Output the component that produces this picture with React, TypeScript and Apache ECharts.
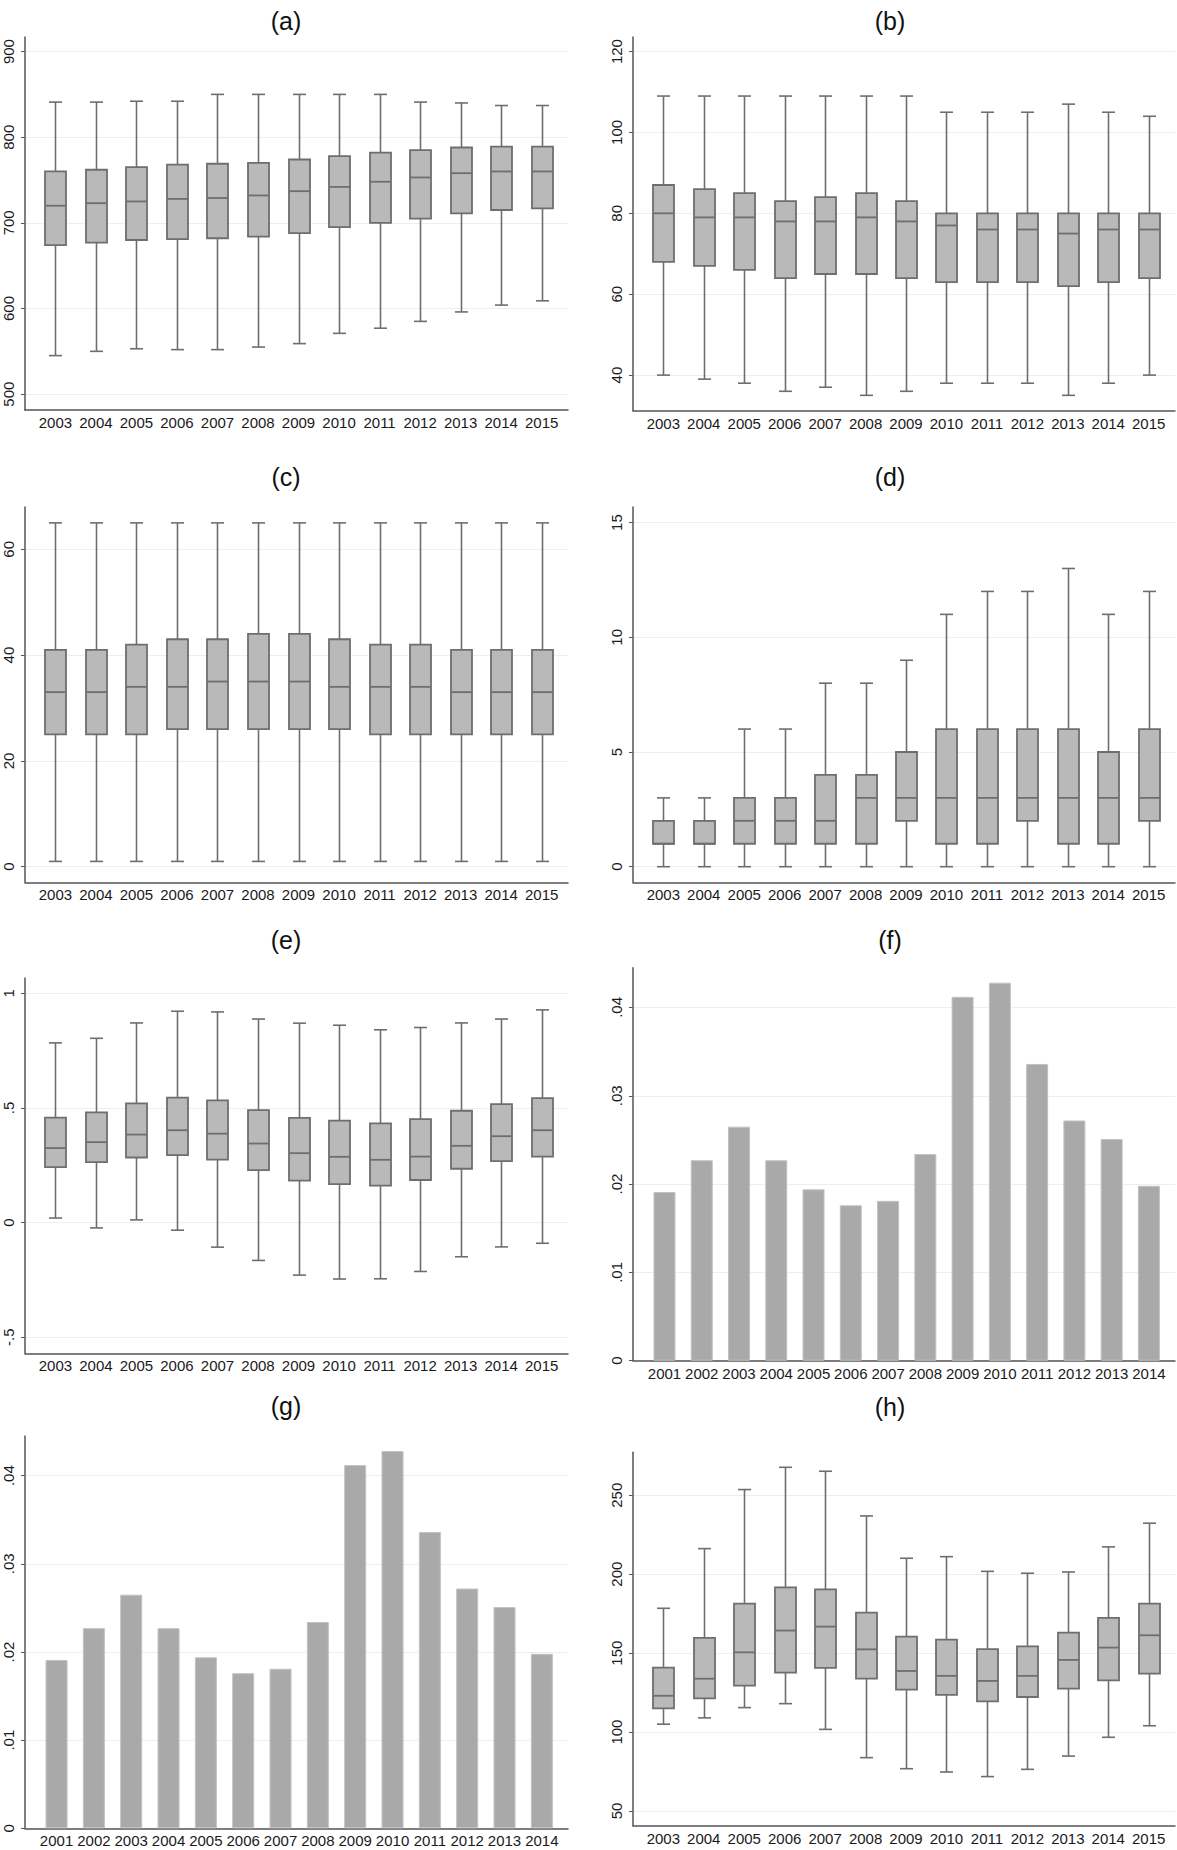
import React, { useEffect, useRef } from "react";
import * as echarts from "echarts";

// ---------- data ----------
const boxYears = ["2003", "2004", "2005", "2006", "2007", "2008", "2009", "2010", "2011", "2012", "2013", "2014", "2015"];
const barYears = ["2001", "2002", "2003", "2004", "2005", "2006", "2007", "2008", "2009", "2010", "2011", "2012", "2013", "2014"];

// (a)
const aMin = [545, 550, 553, 552, 552, 555, 559, 571, 577, 585, 596, 604, 609];
const aQ1 = [674, 677, 680, 681, 682, 684, 688, 695, 700, 705, 711, 715, 717];
const aMed = [720, 723, 725, 728, 729, 732, 737, 742, 748, 753, 758, 760, 760];
const aQ3 = [760, 762, 765, 768, 769, 770, 774, 778, 782, 785, 788, 789, 789];
const aMax = [841, 841, 842, 842, 850, 850, 850, 850, 850, 841, 840, 837, 837];
// (b)
const bMin = [40, 39, 38, 36, 37, 35, 36, 38, 38, 38, 35, 38, 40];
const bQ1 = [68, 67, 66, 64, 65, 65, 64, 63, 63, 63, 62, 63, 64];
const bMed = [80, 79, 79, 78, 78, 79, 78, 77, 76, 76, 75, 76, 76];
const bQ3 = [87, 86, 85, 83, 84, 85, 83, 80, 80, 80, 80, 80, 80];
const bMax = [109, 109, 109, 109, 109, 109, 109, 105, 105, 105, 107, 105, 104];
// (c)
const cMin = [1, 1, 1, 1, 1, 1, 1, 1, 1, 1, 1, 1, 1];
const cQ1 = [25, 25, 25, 26, 26, 26, 26, 26, 25, 25, 25, 25, 25];
const cMed = [33, 33, 34, 34, 35, 35, 35, 34, 34, 34, 33, 33, 33];
const cQ3 = [41, 41, 42, 43, 43, 44, 44, 43, 42, 42, 41, 41, 41];
const cMax = [65, 65, 65, 65, 65, 65, 65, 65, 65, 65, 65, 65, 65];
// (d)
const dMin = [0, 0, 0, 0, 0, 0, 0, 0, 0, 0, 0, 0, 0];
const dQ1 = [1, 1, 1, 1, 1, 1, 2, 1, 1, 2, 1, 1, 2];
const dMed = [1, 1, 2, 2, 2, 3, 3, 3, 3, 3, 3, 3, 3];
const dQ3 = [2, 2, 3, 3, 4, 4, 5, 6, 6, 6, 6, 5, 6];
const dMax = [3, 3, 6, 6, 8, 8, 9, 11, 12, 12, 13, 11, 12];
// (e)
const eMin = [0.02, -0.023, 0.012, -0.033, -0.107, -0.165, -0.229, -0.246, -0.245, -0.213, -0.149, -0.106, -0.09];
const eQ1 = [0.242, 0.264, 0.284, 0.294, 0.275, 0.229, 0.183, 0.168, 0.161, 0.186, 0.235, 0.268, 0.288];
const eMed = [0.325, 0.351, 0.384, 0.403, 0.388, 0.345, 0.303, 0.287, 0.274, 0.288, 0.335, 0.377, 0.403];
const eQ3 = [0.458, 0.481, 0.52, 0.545, 0.533, 0.491, 0.457, 0.445, 0.433, 0.451, 0.488, 0.517, 0.543];
const eMax = [0.784, 0.804, 0.871, 0.922, 0.919, 0.888, 0.87, 0.861, 0.841, 0.851, 0.871, 0.888, 0.928];
// (f) and (g)
const barShare = [0.0191, 0.0227, 0.0265, 0.0227, 0.0194, 0.0176, 0.0181, 0.0234, 0.0412, 0.0428, 0.0336, 0.0272, 0.0251, 0.0198];
// (h)
const hMin = [105, 109, 115.5, 118, 101.7, 83.8, 76.8, 74.7, 71.8, 76.4, 84.8, 96.7, 104];
const hQ1 = [115, 121.4, 129.4, 137.6, 140.6, 133.8, 126.9, 123.5, 119.5, 122.2, 127.5, 132.8, 137];
const hMed = [123, 133.8, 150.5, 164.3, 166.8, 152.4, 138.7, 135.6, 132.4, 135.6, 145.7, 153.5, 161.3];
const hQ3 = [140.8, 159.6, 181.4, 191.7, 190.4, 175.7, 160.5, 158.6, 152.6, 154.3, 163, 172.3, 181.4];
const hMax = [178.4, 216.2, 253.6, 267.7, 265.2, 236.9, 210.1, 211.1, 201.8, 200.6, 201.4, 217.3, 232.3];

// tick labels
const aTicks = [500, 600, 700, 800, 900];
const bTicks = [40, 60, 80, 100, 120];
const cTicks = [0, 20, 40, 60];
const dTicks = [0, 5, 10, 15];
const eTicks = [-0.5, 0, 0.5, 1];
const fTicks = [0, 0.01, 0.02, 0.03, 0.04];
const hTicks = [50, 100, 150, 200, 250];

// ---------- style ----------
const FONT = "'Liberation Sans', Arial, Helvetica, sans-serif";
const AXIS = "#555555";
const EDGE = "#6e6e6e";
const BOXFILL = "#b9b9b9";
const BARFILL = "#a9a9a9";
const GRIDC = "#eeeeee";
const TEXTC = "#1a1a1a";
const LABEL_SIZE = 15;

const stataFmt = (v: number) => {
  const s = String(Math.round(v * 10000) / 10000);
  return s.replace(/^0\./, ".").replace(/^-0\./, "-.");
};

type Panel = {
  title: string;
  kind: "box" | "bar";
  left: number;
  top: number;
  bottom: number;
  width: number;
  yMin: number;
  yMax: number;
  ticks: number[];
  titleX: number;
  titleY: number;
  box?: number[][];
  bars?: number[];
};

const zipBox = (mn: number[], q1: number[], md: number[], q3: number[], mx: number[]) =>
  mn.map((_, i) => [i, mn[i], q1[i], md[i], q3[i], mx[i]]);

const LX = 25;
const RX = 633;
const LT = 286;
const RT = 890;

const panels: Panel[] = [
  { title: "(a)", kind: "box", left: LX, top: 37, bottom: 410, width: 543, yMin: 481.5, yMax: 917, ticks: aTicks, titleX: LT, titleY: 21, box: zipBox(aMin, aQ1, aMed, aQ3, aMax) },
  { title: "(b)", kind: "box", left: RX, top: 37, bottom: 410.7, width: 542, yMin: 31.2, yMax: 123.6, ticks: bTicks, titleX: RT, titleY: 21, box: zipBox(bMin, bQ1, bMed, bQ3, bMax) },
  { title: "(c)", kind: "box", left: LX, top: 507, bottom: 882.3, width: 543, yMin: -2.95, yMax: 68, ticks: cTicks, titleX: LT, titleY: 477, box: zipBox(cMin, cQ1, cMed, cQ3, cMax) },
  { title: "(d)", kind: "box", left: RX, top: 507, bottom: 882.3, width: 542, yMin: -0.68, yMax: 15.68, ticks: dTicks, titleX: RT, titleY: 477, box: zipBox(dMin, dQ1, dMed, dQ3, dMax) },
  { title: "(e)", kind: "box", left: LX, top: 978, bottom: 1353.3, width: 543, yMin: -0.57, yMax: 1.067, ticks: eTicks, titleX: LT, titleY: 940, box: zipBox(eMin, eQ1, eMed, eQ3, eMax) },
  { title: "(f)", kind: "bar", left: RX, top: 967.7, bottom: 1360.7, width: 542, yMin: 0, yMax: 0.0445, ticks: fTicks, titleX: RT, titleY: 940, bars: barShare },
  { title: "(g)", kind: "bar", left: LX, top: 1436, bottom: 1828.3, width: 543, yMin: 0, yMax: 0.0445, ticks: fTicks, titleX: LT, titleY: 1406, bars: barShare },
  { title: "(h)", kind: "box", left: RX, top: 1452.3, bottom: 1825.7, width: 542, yMin: 40.7, yMax: 277.2, ticks: hTicks, titleX: RT, titleY: 1407, box: zipBox(hMin, hQ1, hMed, hQ3, hMax) },
];

const BOX_W = 21;
const CAP_W = 13;

const renderBox = (_params: any, api: any) => {
  const x = api.value(0);
  const lo = api.coord([x, api.value(1)]);
  const q1 = api.coord([x, api.value(2)]);
  const md = api.coord([x, api.value(3)]);
  const q3 = api.coord([x, api.value(4)]);
  const hi = api.coord([x, api.value(5)]);
  const cx = Math.round(lo[0]) + 0.5;
  const ls = { stroke: EDGE, lineWidth: 1.6 };
  return {
    type: "group",
    children: [
      { type: "line", shape: { x1: cx, y1: hi[1], x2: cx, y2: q3[1] }, style: ls },
      { type: "line", shape: { x1: cx, y1: q1[1], x2: cx, y2: lo[1] }, style: ls },
      { type: "line", shape: { x1: cx - CAP_W / 2, y1: hi[1], x2: cx + CAP_W / 2, y2: hi[1] }, style: ls },
      { type: "line", shape: { x1: cx - CAP_W / 2, y1: lo[1], x2: cx + CAP_W / 2, y2: lo[1] }, style: ls },
      {
        type: "rect",
        shape: { x: cx - BOX_W / 2, y: q3[1], width: BOX_W, height: q1[1] - q3[1] },
        style: { fill: BOXFILL, stroke: EDGE, lineWidth: 1.8 },
      },
      { type: "line", shape: { x1: cx - BOX_W / 2, y1: md[1], x2: cx + BOX_W / 2, y2: md[1] }, style: { stroke: EDGE, lineWidth: 1.8 } },
    ],
  };
};

function buildOption() {
  const grid: any[] = [];
  const xAxis: any[] = [];
  const yAxis: any[] = [];
  const series: any[] = [];
  panels.forEach((p, i) => {
    grid.push({ left: p.left, top: p.top, width: p.width, height: p.bottom - p.top, containLabel: false, outerBoundsMode: "none" });
    const cats = p.kind === "box" ? boxYears : barYears;
    xAxis.push({
      gridIndex: i,
      type: "value",
      min: p.kind === "box" ? -0.75 : -0.845,
      max: p.kind === "box" ? 12.65 : 13.7,
      axisLine: { show: true, onZero: false, lineStyle: { color: AXIS, width: 1.5 } },
      axisTick: { show: false },
      splitLine: { show: false },
      axisLabel: {
        show: true,
        customValues: cats.map((_, k) => k),
        formatter: (v: number) => cats[Math.round(v)] ?? "",
        margin: 5,
        fontSize: LABEL_SIZE,
        color: TEXTC,
        fontFamily: FONT,
      },
    });
    yAxis.push({
      gridIndex: i,
      type: "value",
      min: p.yMin,
      max: p.yMax,
      axisLine: { show: true, onZero: false, lineStyle: { color: AXIS, width: 1.5 } },
      axisTick: { show: true, length: 4, customValues: p.ticks, lineStyle: { color: AXIS, width: 1 } },
      axisLabel: {
        show: true,
        customValues: p.ticks,
        rotate: 90,
        formatter: (v: number) => stataFmt(v),
        margin: 9,
        fontSize: LABEL_SIZE,
        color: TEXTC,
        fontFamily: FONT,
      },
      splitLine: { show: true, lineStyle: { color: GRIDC, width: 1 } },
    });
    if (p.kind === "box") {
      series.push({
        type: "custom",
        xAxisIndex: i,
        yAxisIndex: i,
        renderItem: renderBox,
        encode: { x: 0, y: [1, 2, 3, 4, 5] },
        data: p.box,
        silent: true,
        clip: false,
      });
    } else {
      series.push({
        type: "bar",
        xAxisIndex: i,
        yAxisIndex: i,
        data: (p.bars || []).map((v, k) => [k, v]),
        barWidth: 22,
        itemStyle: { color: BARFILL, borderColor: "#c2c2c2", borderWidth: 1 },
        silent: true,
      });
    }
  });
  const graphic = panels.map((p) => ({
    type: "text",
    x: p.titleX,
    y: p.titleY,
    silent: true,
    style: {
      text: p.title,
      fontSize: 25,
      fontFamily: FONT,
      fill: "#111111",
      textAlign: "center",
      textVerticalAlign: "middle",
      align: "center",
      verticalAlign: "middle",
    },
  }));
  return {
    animation: false,
    backgroundColor: "#ffffff",
    textStyle: { fontFamily: FONT },
    grid,
    xAxis,
    yAxis,
    series,
    graphic,
  };
}

export default function App() {
  const ref = useRef<HTMLDivElement | null>(null);
  useEffect(() => {
    if (!ref.current) return;
    const chart = echarts.init(ref.current, undefined, { renderer: "svg", width: 1177, height: 1850 });
    chart.setOption(buildOption() as any);
    return () => chart.dispose();
  }, []);
  return (
    <div
      ref={ref}
      style={{ position: "absolute", left: 0, top: 0, width: 1177, height: 1850, background: "#ffffff" }}
    />
  );
}
